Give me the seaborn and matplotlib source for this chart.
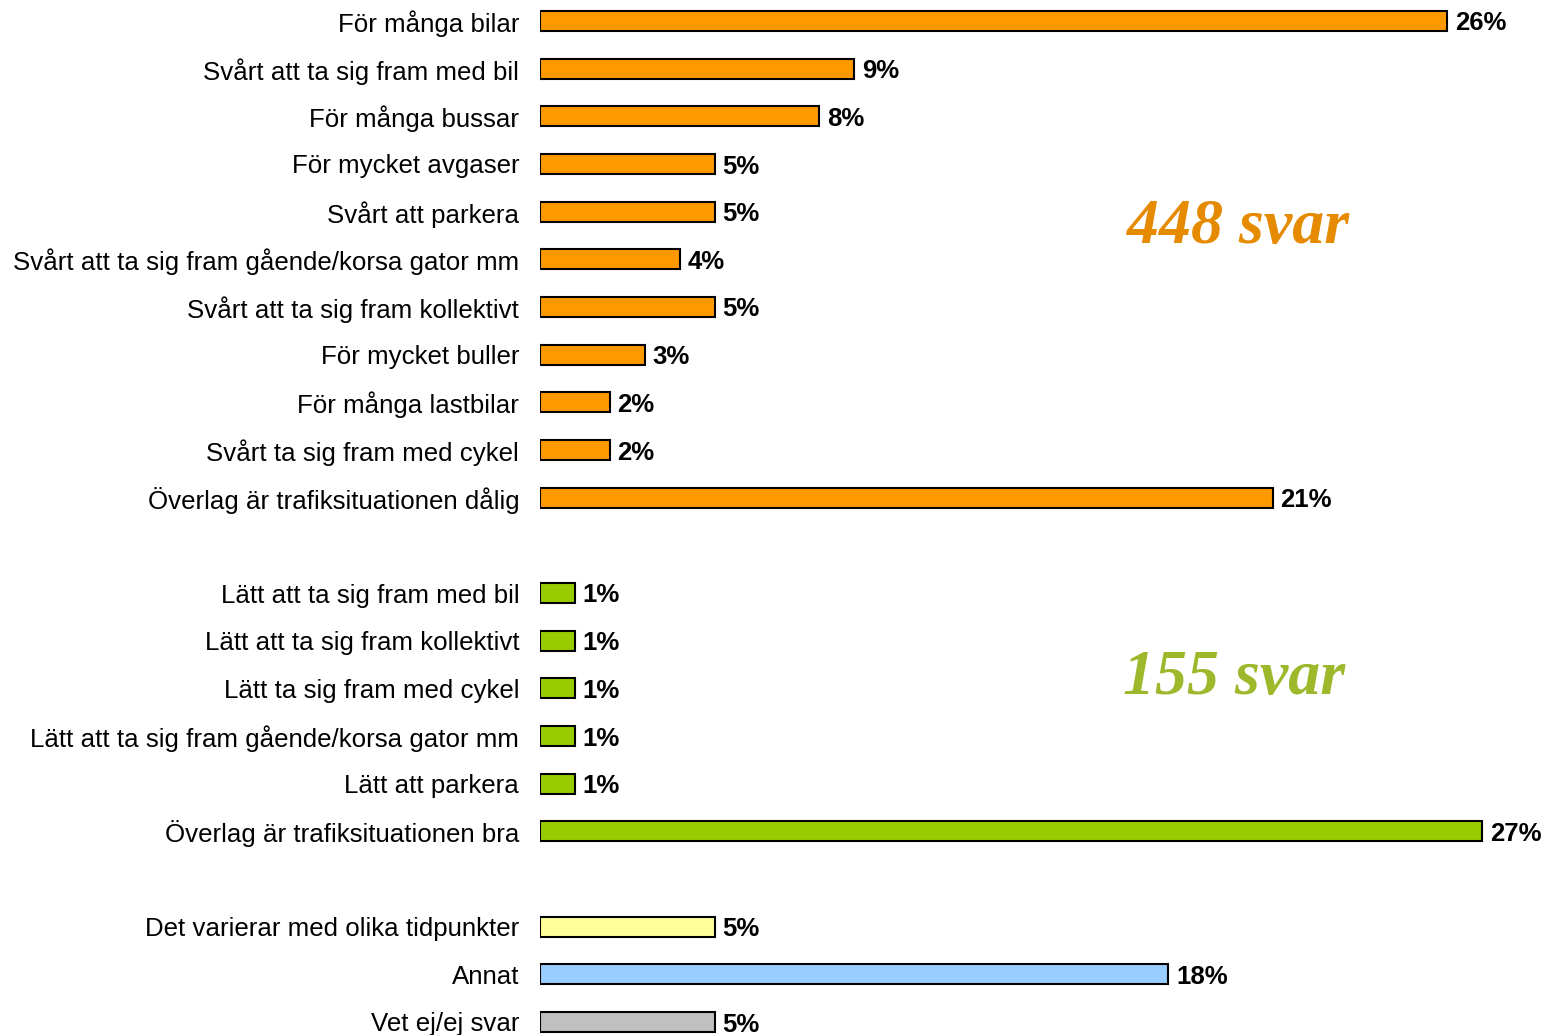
import matplotlib
matplotlib.use("Agg")
import matplotlib.pyplot as plt
import seaborn as sns
import pandas as pd

categories = [
    "För många bilar",
    "Svårt att ta sig fram med bil",
    "För många bussar",
    "För mycket avgaser",
    "Svårt att parkera",
    "Svårt att ta sig fram gående/korsa gator mm",
    "Svårt att ta sig fram kollektivt",
    "För mycket buller",
    "För många lastbilar",
    "Svårt ta sig fram med cykel",
    "Överlag är trafiksituationen dålig",
    "Lätt att ta sig fram med bil",
    "Lätt att ta sig fram kollektivt",
    "Lätt ta sig fram med cykel",
    "Lätt att ta sig fram gående/korsa gator mm",
    "Lätt att parkera",
    "Överlag är trafiksituationen bra",
    "Det varierar med olika tidpunkter",
    "Annat",
    "Vet ej/ej svar",
]
values = [26, 9, 8, 5, 5, 4, 5, 3, 2, 2, 21, 1, 1, 1, 1, 1, 27, 5, 18, 5]
groups = ["neg"] * 11 + ["pos"] * 6 + ["var", "annat", "vetej"]
palette = {"neg": "#FF9900", "pos": "#99CC00", "var": "#FFFF99",
           "annat": "#99CCFF", "vetej": "#C0C0C0"}
annotations = [("448 svar", "#E68A00", 20.0, 4.35), ("155 svar", "#9DB82A", 19.9, 13.8)]

# display order with blank spacer rows between groups
order = categories[:11] + [" "] + categories[11:17] + ["  "] + categories[17:]

df = pd.DataFrame({"label": categories, "value": values, "group": groups})

sns.set_theme(style="white")
plt.rcParams["font.family"] = ["Liberation Sans", "DejaVu Sans"]

W, H = 1543, 1035
fig = plt.figure(figsize=(W / 100, H / 100), dpi=100)
n = len(order)
row_px = (1022 - 21) / (n - 1)
top_px = 21 - row_px / 2
bot_px = 1022 + row_px / 2
left_px = 540
ax = fig.add_axes([left_px / W, (H - bot_px) / H, (W - left_px) / W, (bot_px - top_px) / H])

sns.barplot(data=df, y="label", x="value", hue="group", palette=palette, order=order,
            dodge=False, width=0.42, edgecolor="black", linewidth=1.5, legend=False,
            saturation=1, ax=ax)

px_per_unit = 34.9
ax.set_xlim(0, (W - left_px) / px_per_unit)
ax.set_ylim(n - 0.5, -0.5)
for s in ax.spines.values():
    s.set_visible(False)
ax.set_xticks([])
ax.set_xlabel("")
ax.set_ylabel("")
ax.tick_params(axis="y", length=0, pad=15, labelsize=18.6, labelcolor="black")
for lbl in ax.get_yticklabels():
    lbl.set_verticalalignment("center_baseline")

for cat, v in zip(categories, values):
    y = order.index(cat)
    ax.text(v + 0.22, y, f"{v}%", va="center_baseline", ha="left", fontsize=18.5,
            fontweight="bold", color="black")

for txt, col, x, y in annotations:
    ax.text(x, y, txt, ha="center", va="center", color=col, fontsize=46,
            fontweight="bold", fontstyle="italic", family=["Liberation Serif", "DejaVu Serif"])

fig.savefig("out.png", dpi=100)
